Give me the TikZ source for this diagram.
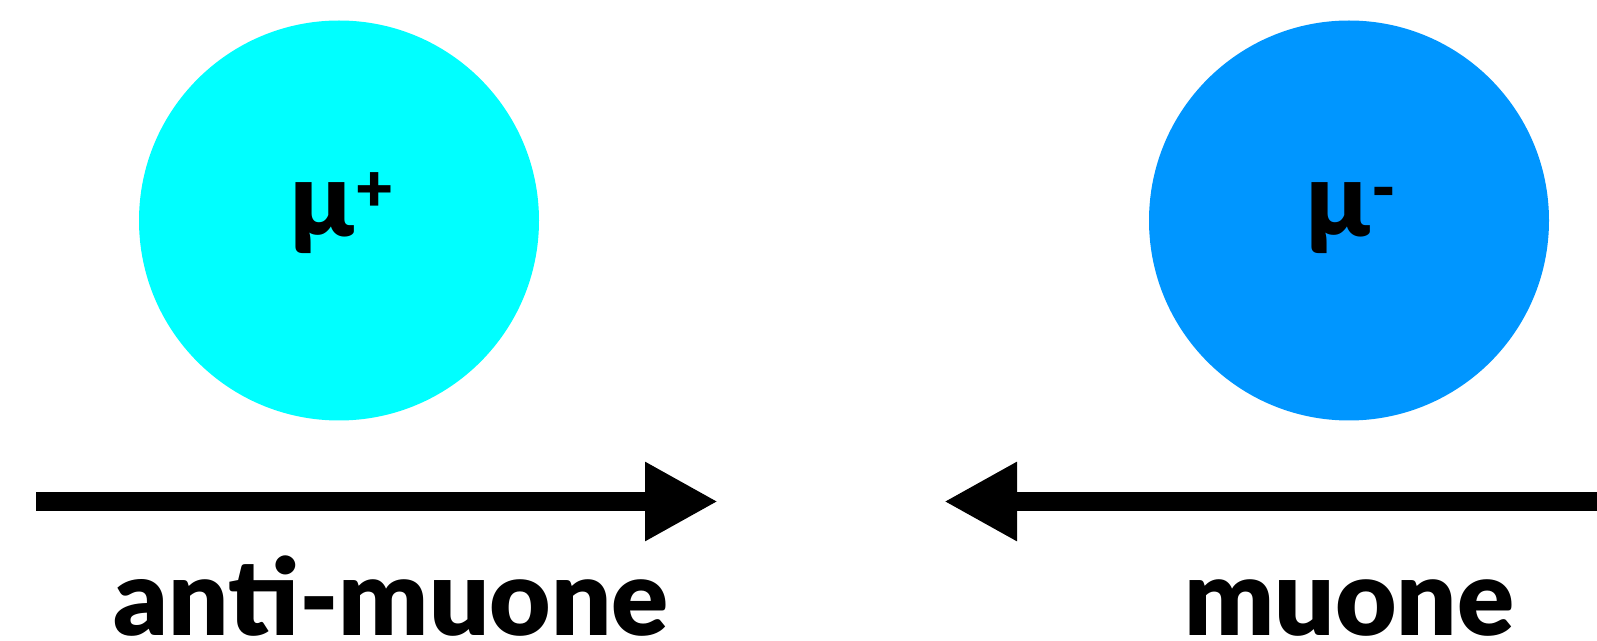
\documentclass[tikz,border=0pt]{standalone}
\usepackage{fontspec}
\newfontfamily\lab{Lato Black}
\usetikzlibrary{arrows.meta}
\definecolor{antic}{HTML}{00FFFF}
\definecolor{muc}{HTML}{0096FF}
\tikzset{
  particle/.style={circle,inner sep=0pt,minimum size=200pt,draw=none},
  ptext/.style={anchor=base,inner sep=0pt,font=\lab\fontsize{52}{52}\selectfont,text=black},
  caption/.style={anchor=base,inner sep=0pt,font=\lab\fontsize{53}{53}\selectfont,text=black},
  motion/.style={line width=9.5pt,-{Triangle[length=36.5pt,width=37pt]}}
}
\newcommand{\chargesup}[1]{\kern1pt\raisebox{12.5pt}{\fontsize{33}{33}\selectfont#1}}
\begin{document}
\begin{tikzpicture}[x=0.5pt,y=-0.5pt]
\useasboundingbox (0,0) rectangle (1597,641);
\node[particle,fill=antic] (ap) at (339,220.5) {};
\node[particle,fill=muc] (mm) at (1349,220.5) {};
\node[ptext] (apl) at (342,237) {μ\chargesup{+}};
\node[ptext] (mml) at (1351.5,237) {μ\chargesup{-}};
\coordinate (l1) at (36,501.5);
\coordinate (l2) at (718,501.5);
\coordinate (r1) at (1597,501.5);
\coordinate (r2) at (944,501.5);
\draw[motion] (l1) -- (l2);
\draw[motion] (r1) -- (r2);
\node[caption] (apc) at (391,635.5) {anti-muone};
\node[caption] (mmc) at (1349.5,635.5) {muone};
\end{tikzpicture}
\end{document}
